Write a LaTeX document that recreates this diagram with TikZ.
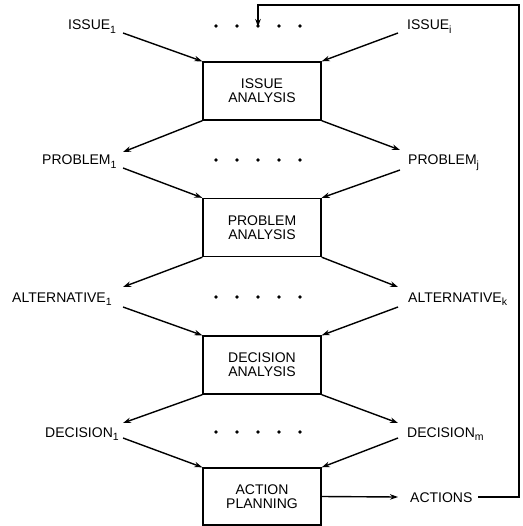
\documentclass[tikz,border=0pt]{standalone}
\usepackage{fontspec}
\setmainfont{Liberation Sans}
\usetikzlibrary{arrows.meta}
\newcommand{\sbx}[1]{\raisebox{-0.5ex}{\fontsize{10.5}{10.5}\selectfont #1}}
\begin{document}
\begin{tikzpicture}[x=1pt,y=-1pt,
  lbl/.style={anchor=base west,inner sep=0pt,font=\fontsize{14}{14}\selectfont},
  stagebox/.style={draw,line width=1.4pt,minimum width=118pt,minimum height=58pt,inner sep=0pt,align=center,font=\fontsize{14}{14}\selectfont},
  dotn/.style={circle,fill,inner sep=0pt,minimum size=3.6pt},
  arr/.style={line width=1.4pt,-{Stealth[length=8pt,width=5.5pt]}},
  ln/.style={line width=1.4pt}]
\useasboundingbox (0,0) rectangle (522,526);
% boxes
\node[stagebox] (iss) at (262,91) {ISSUE\\ANALYSIS};
\node[stagebox] (prb) at (262,227.5) {PROBLEM\\ANALYSIS};
\node[stagebox] (dca) at (262,365) {DECISION\\ANALYSIS};
\node[stagebox,minimum height=57pt] (apl) at (262,496.5) {ACTION\\PLANNING};
% labels
\node[lbl] (is1) at (68,30) {ISSUE\sbx{1}};
\node[lbl] (isi) at (407,30) {ISSUE\sbx{i}};
\node[lbl] (pr1) at (42,165) {PROBLEM\sbx{1}};
\node[lbl] (prj) at (408,165) {PROBLEM\sbx{j}};
\node[lbl] (al1) at (12,302) {ALTERNATIVE\sbx{1}};
\node[lbl] (alk) at (408,302) {ALTERNATIVE\sbx{k}};
\node[lbl] (de1) at (45,437) {DECISION\sbx{1}};
\node[lbl] (dem) at (407,437) {DECISION\sbx{m}};
\node[lbl] (act) at (410,502) {ACTIONS};
% dots
\foreach \r/\y in {a/26,b/160,c/297,d/432}{
  \foreach \i/\x in {1/216,2/237,3/258,4/279,5/300}{
    \node[dotn] (d\r\i) at (\x,\y) {};
  }
}
% connector end points at the labels
\coordinate (is1o) at (123,33);
\coordinate (isio) at (398,33);
\coordinate (pr1i) at (123,152);
\coordinate (pr1o) at (123,168);
\coordinate (prji) at (400,150);
\coordinate (prjo) at (400,170);
\coordinate (al1i) at (123,287);
\coordinate (al1o) at (123,307);
\coordinate (alki) at (398,287);
\coordinate (alko) at (398,307);
\coordinate (de1i) at (123,423);
\coordinate (de1o) at (123,438);
\coordinate (demi) at (398,423);
\coordinate (demo) at (398,438);
\coordinate (acti) at (398,497);
\coordinate (acto) at (478,497);
\coordinate (fb1) at (519,497);
\coordinate (fb2) at (519,5);
\coordinate (fb3) at (258,5);
% arrows
\draw[arr] (is1o) -- (iss.north west);
\draw[arr] (isio) -- (iss.north east);
\draw[arr] (iss.south west) -- (pr1i);
\draw[arr] (iss.south east) -- (prji);
\draw[arr] (pr1o) -- (prb.north west);
\draw[arr] (prjo) -- (prb.north east);
\draw[arr] (prb.south west) -- (al1i);
\draw[arr] (prb.south east) -- (alki);
\draw[arr] (al1o) -- (dca.north west);
\draw[arr] (alko) -- (dca.north east);
\draw[arr] (dca.south west) -- (de1i);
\draw[arr] (dca.south east) -- (demi);
\draw[arr] (de1o) -- (apl.north west);
\draw[arr] (demo) -- (apl.north east);
\draw[arr] (apl.east) -- (acti);
\draw[arr] (acto) -- (fb1) -- (fb2) -- (fb3) -- ([yshift=-3pt]da3.north);
\end{tikzpicture}
\end{document}
